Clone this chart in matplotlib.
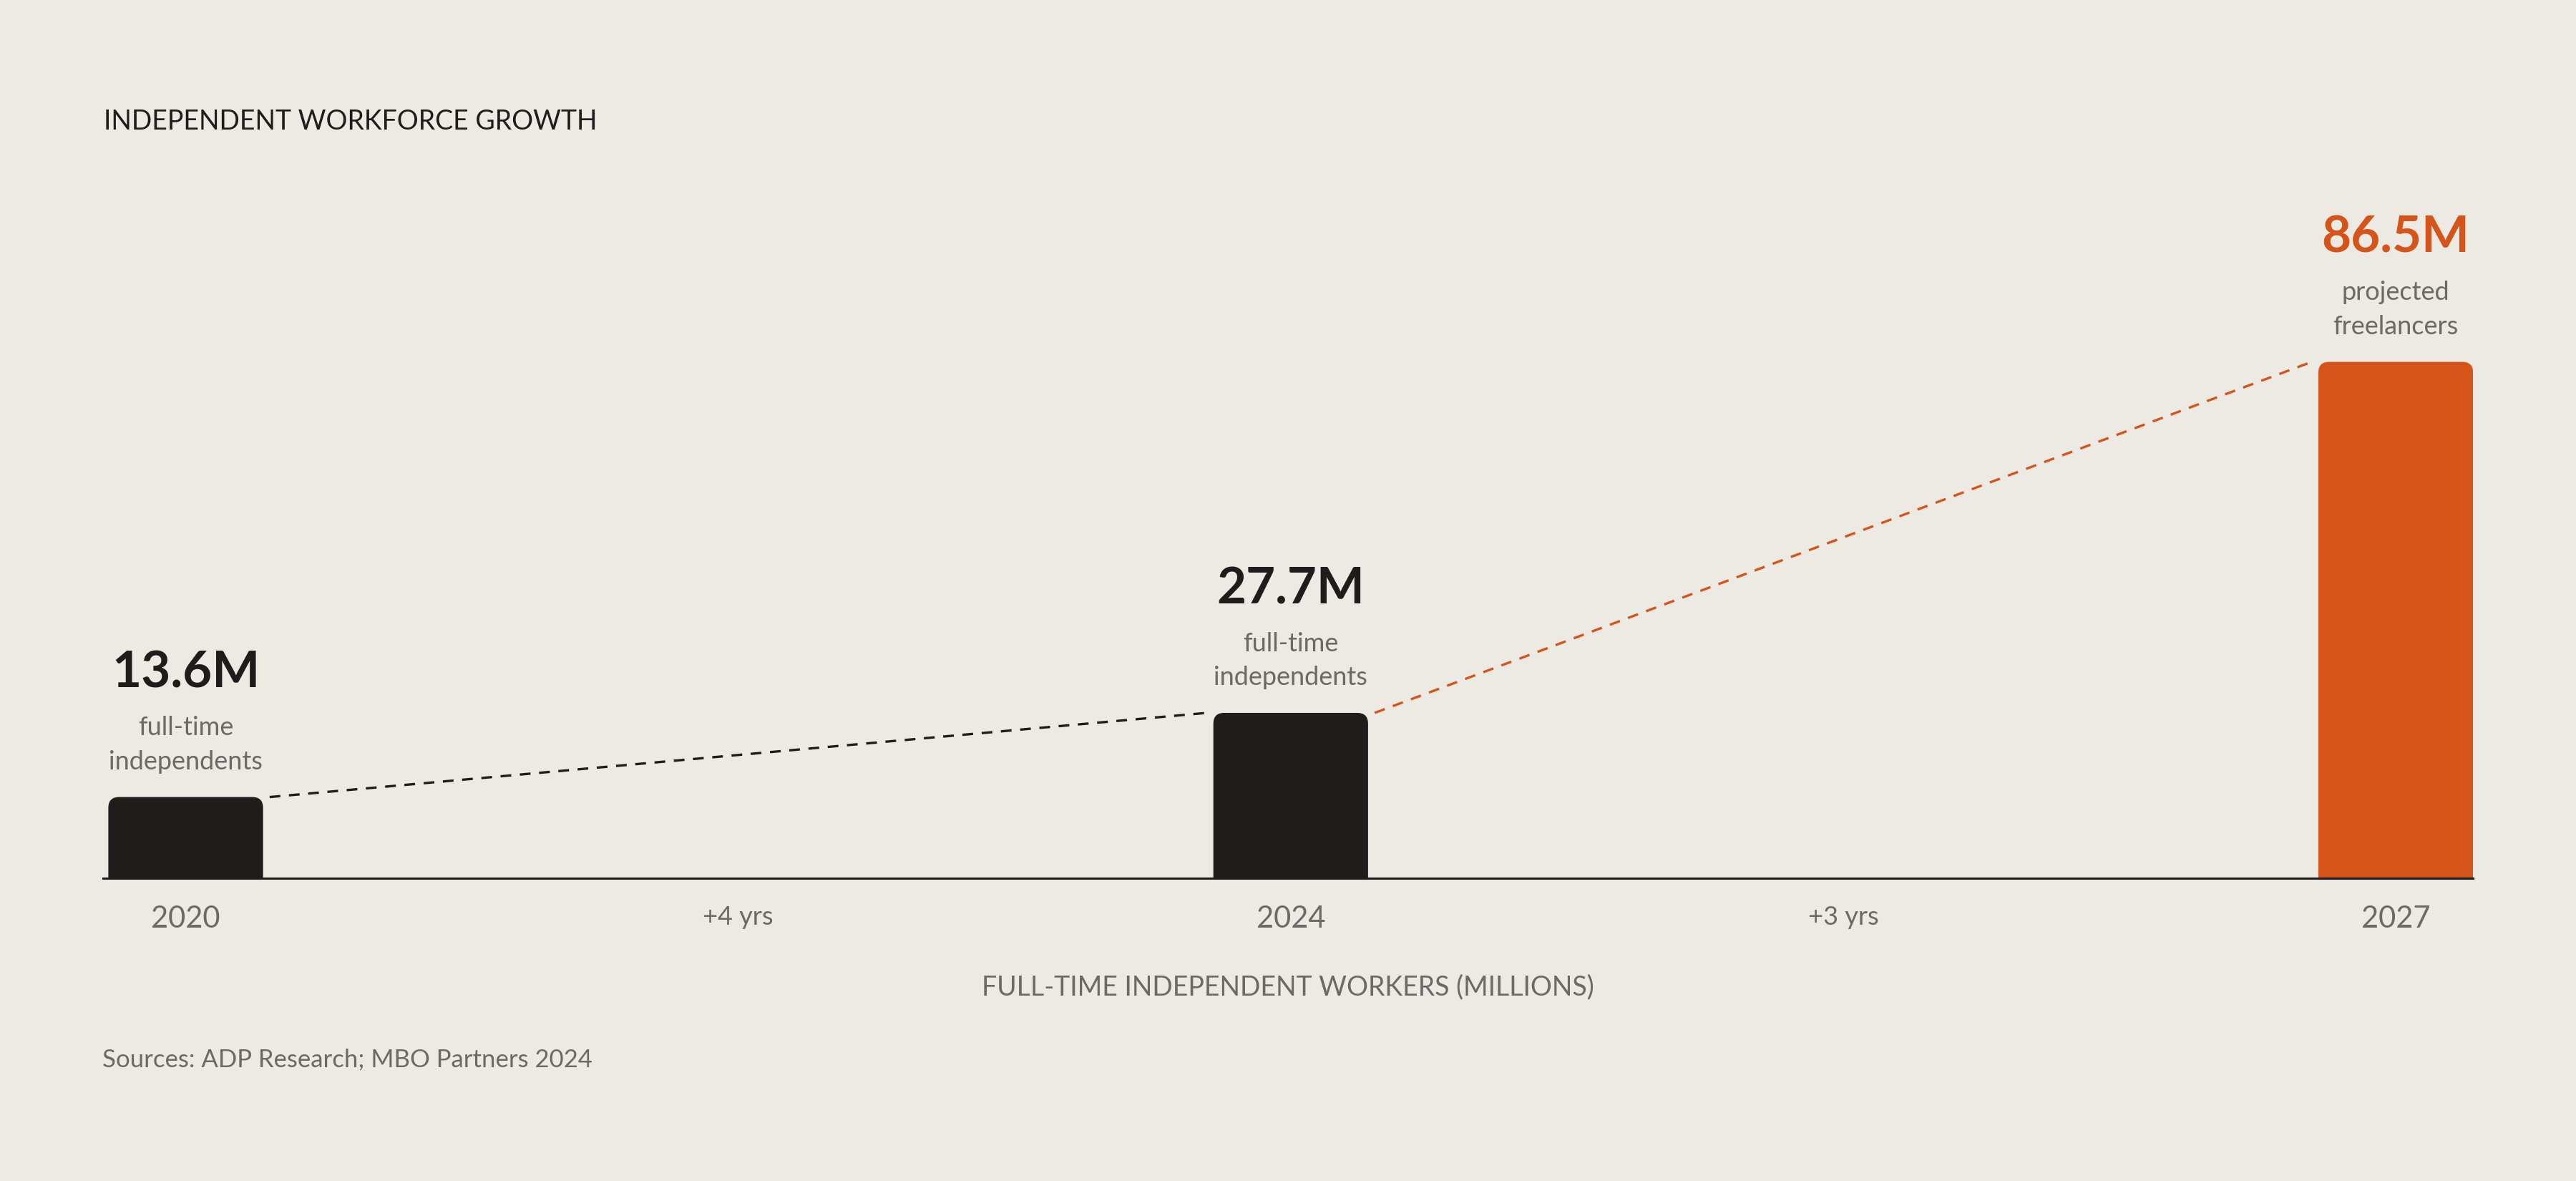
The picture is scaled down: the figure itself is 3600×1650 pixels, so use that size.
import matplotlib.pyplot as plt
from matplotlib.patches import FancyBboxPatch

plt.rcParams["font.family"] = ["Lato", "DejaVu Sans"]

# data
years = ["2020", "2024", "2027"]
values = [13.6, 27.7, 86.5]
value_labels = ["13.6M", "27.7M", "86.5M"]
sub_labels = ["full-time\nindependents", "full-time\nindependents", "projected\nfreelancers"]
gap_labels = ["+4 yrs", "+3 yrs"]

BG = "#EDEAE4"
DARK = "#1E1D1B"
ORANGE = "#D4541A"
GRAY = "#6B6A66"
bar_colors = [DARK, DARK, ORANGE]
link_colors = [DARK, ORANGE]

W, H = 3600, 1650
fig = plt.figure(figsize=(W / 100, H / 100), dpi=100, facecolor=BG)
ax = fig.add_axes([144 / W, 423 / H, 3312 / W, 834 / H])
ax.set_facecolor(BG)

x = list(range(len(years)))
width = 0.14
ax.set_xlim(-0.0748, 2.0699)
ax.set_ylim(0, 100)

# bars with rounded top corners
bars = ax.bar(x, values, width=width, color=bar_colors)
r = 0.0097
aspect = 1.8 / r
for b, c in zip(bars, bar_colors):
    patch = FancyBboxPatch(
        (b.get_x(), -5), b.get_width(), b.get_height() + 5,
        boxstyle=f"round,pad=0,rounding_size={r}",
        mutation_aspect=aspect,
        facecolor=c, edgecolor="none", zorder=2,
    )
    ax.add_patch(patch)
    b.remove()

# dashed connectors between bar tops
gap = 0.006
for i in range(len(values) - 1):
    ax.plot(
        [x[i] + width / 2 + gap, x[i + 1] - width / 2 - gap],
        [values[i], values[i + 1]],
        color=link_colors[i], lw=2.4, linestyle=(0, (4.5, 3.6)),
        solid_capstyle="butt", dash_capstyle="butt", zorder=3,
    )

# labels above bars
for xi, v, vl, sl, c in zip(x, values, value_labels, sub_labels, bar_colors):
    ax.annotate(vl, xy=(xi, v), xytext=(0, 110), textcoords="offset points",
                ha="center", va="baseline", fontsize=51, fontweight="bold",
                color=c, annotation_clip=False)
    ax.annotate(sl, xy=(xi, v), xytext=(0, 28), textcoords="offset points",
                ha="center", va="baseline", fontsize=26, color=GRAY,
                linespacing=1.53, annotation_clip=False)

# axes styling
for s in ["top", "left", "right"]:
    ax.spines[s].set_visible(False)
ax.spines["bottom"].set_color(DARK)
ax.spines["bottom"].set_linewidth(2.2)
ax.spines["bottom"].set_zorder(4)
ax.set_yticks([])

ticks = [0, 0.5, 1, 1.5, 2]
tick_labels = [years[0], gap_labels[0], years[1], gap_labels[1], years[2]]
ax.set_xticks(ticks, tick_labels)
ax.tick_params(axis="x", length=0, pad=27, colors=GRAY)
for lab, t in zip(ax.get_xticklabels(), tick_labels):
    lab.set_fontsize(26 if "yrs" in t else 30)

ax.set_xlabel("FULL-TIME INDEPENDENT WORKERS (MILLIONS)", fontsize=27,
              color=GRAY, labelpad=42)

fig.text(145 / W, 1 - 181 / H, "INDEPENDENT WORKFORCE GROWTH", fontsize=27,
         fontweight="normal", color=DARK, ha="left", va="baseline")
fig.text(143 / W, 1 - 1490 / H, "Sources: ADP Research; MBO Partners 2024",
         fontsize=25, color=GRAY, ha="left", va="baseline")

fig.savefig("out.png", dpi=100, facecolor=BG)
